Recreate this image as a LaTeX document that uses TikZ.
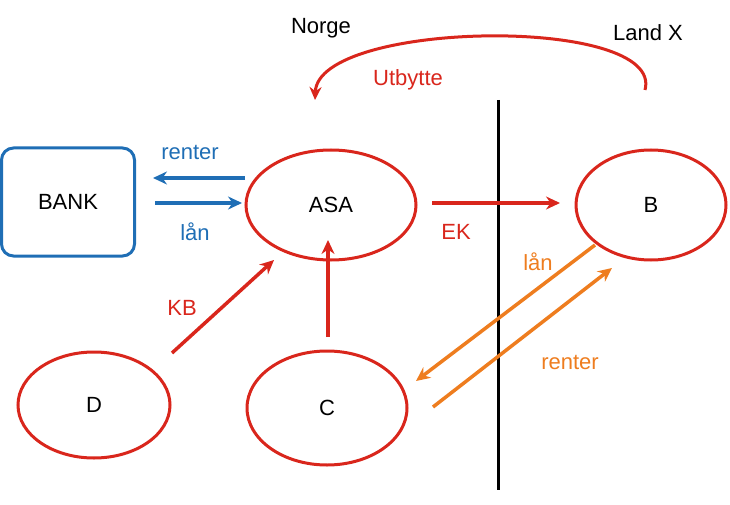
\documentclass[tikz,border=0pt]{standalone}
\usepackage{fontspec}
\setmainfont{Liberation Sans}
\usetikzlibrary{arrows.meta}
\definecolor{cr}{HTML}{D9261C}
\definecolor{co}{HTML}{EE7D1F}
\definecolor{cb}{HTML}{1F6EB5}
\begin{document}
\begin{tikzpicture}[x=1pt,y=-1pt,
 every node/.style={font=\fontsize{22}{26}\selectfont},
 ell/.style={draw=cr,line width=3pt},
 arr/.style={line width=3.5pt,-{Stealth[length=14pt,width=13pt]}},
 lab/.style={inner sep=0pt}]
\useasboundingbox (0,0) rectangle (730,505);
\node[draw=cb,line width=3pt,rounded corners=12pt,minimum width=133pt,minimum height=108pt] (bank) at (68,202) {BANK};
\draw[ell] (331,205) ellipse (85 and 55); \node (asa) at (331,205) {ASA};
\draw[ell] (651,205) ellipse (75 and 55); \node (b) at (651,205) {B};
\draw[ell] (94,405) ellipse (76 and 53); \node (d) at (94,405) {D};
\draw[ell] (327,408) ellipse (80 and 57); \node (c) at (327,408) {C};
\coordinate (t1) at (498,100); \coordinate (t2) at (498,490);
\draw[line width=3pt] (t1) -- (t2);
\node[lab] (norge) at (321,28) {Norge};
\node[lab] (landx) at (648,33) {Land X};
\coordinate (u1) at (645,90); \coordinate (u2) at (315,100);
\draw[cr,line width=3pt,-{Stealth[length=13pt,width=12pt]}] (u1) .. controls (665,15) and (318,20) .. (u2);
\node[lab,text=cr] (utb) at (408,80) {Utbytte};
\coordinate (r1) at (245,178); \coordinate (r2) at (153,178);
\draw[arr,cb] (r1) -- (r2);
\node[lab,text=cb] (renterb) at (190,152) {renter};
\coordinate (l1) at (155,203); \coordinate (l2) at (242,203);
\draw[arr,cb] (l1) -- (l2);
\node[lab,text=cb] (lanb) at (195,232) {lån};
\coordinate (e1) at (432,203); \coordinate (e2) at (560,203);
\draw[arr,cr] (e1) -- (e2);
\node[lab,text=cr] (ek) at (456,232) {EK};
\coordinate (k1) at (172,353); \coordinate (k2) at (274,260);
\draw[arr,cr] (k1) -- (k2);
\node[lab,text=cr] (kb) at (182,308) {KB};
\coordinate (c1) at (328,337); \coordinate (c2) at (328,240);
\draw[arr,cr] (c1) -- (c2);
\coordinate (o1) at (595,245); \coordinate (o2) at (416,381);
\draw[arr,co] (o1) -- (o2);
\node[lab,text=co] (lano) at (538,262) {lån};
\coordinate (p1) at (433,407); \coordinate (p2) at (612,268);
\draw[arr,co] (p1) -- (p2);
\node[lab,text=co] (rentero) at (570,362) {renter};
\end{tikzpicture}
\end{document}
